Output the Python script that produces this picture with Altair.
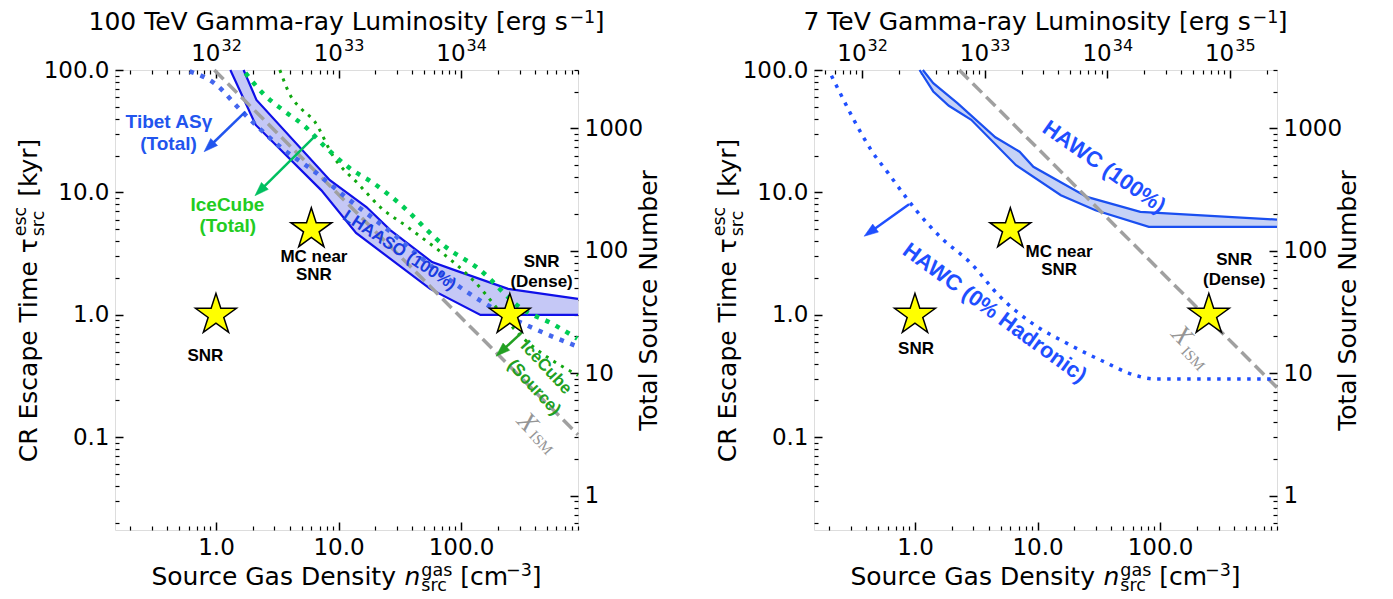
import math
import altair as alt
import pandas as pd

# ---------------- data: left panel (100 TeV) ----------------
lhaaso_up_n = [1.68, 2.14, 8.5, 16.9, 26.6, 58, 91, 242, 900]
lhaaso_up_tau = [100, 57, 12.6, 7.6, 4.9, 2.7, 2.3, 1.63, 1.35]
lhaaso_lo_n = [1.31, 2.11, 7.25, 13.9, 56, 144, 900]
lhaaso_lo_tau = [100, 35.6, 10.4, 4.67, 1.63, 1.0, 1.0]

tibet_n = [0.61, 0.97, 1.63, 3.32, 6.37, 11.4, 26.6, 66, 175, 463, 900]
tibet_tau = [97.5, 78, 45.8, 23.7, 14.8, 9.2, 4.76, 2.24, 1.16, 0.72, 0.55]

icecube_a_n = [1.74, 2.48, 3.59, 5.41, 7.74, 13, 18.6, 30.3, 75, 139, 314, 562, 887]
icecube_a_tau = [94.5, 62.8, 46.4, 34.1, 23.7, 15.2, 12.2, 8.38, 3.59, 2.38, 1.12, 0.84, 0.64]
icecube_b_n = [3.32, 4.09, 4.91, 6.37, 9.1, 14.8, 21.9, 36.8, 126, 314, 900]
icecube_b_tau = [100, 60.8, 48.8, 38, 19.6, 11.5, 7.6, 5.2, 1.91, 0.66, 0.32]

xism_left_n = [0.97, 900]
xism_left_tau = [100, 0.105]

# ---------------- data: right panel (7 TeV) ----------------
hawc_up_n = [1.16, 1.41, 2.22, 4.53, 7.14, 9.25, 25.3, 69, 900]
hawc_up_tau = [100, 78, 53.6, 28.2, 21.5, 16.2, 9.2, 6.95, 6.0]
hawc_lo_n = [1.09, 1.41, 1.89, 2.88, 6.68, 15.5, 29.7, 81, 900]
hawc_lo_tau = [100, 66.8, 51, 39.2, 16.7, 9.5, 7.16, 5.23, 5.23]
hawc0_n = [0.208, 0.245, 0.317, 0.439, 0.607, 0.84, 1.02, 1.61, 2.88, 4.84, 9.25, 17.7, 33.9, 64.8, 89.5, 900]
hawc0_tau = [89.9, 64.8, 39.2, 22.2, 14.3, 9.2, 7.16, 4.33, 2.62, 1.44, 0.84, 0.58, 0.42, 0.318, 0.30, 0.30]

xism_right_n = [2.3, 900]
xism_right_tau = [100, 0.255]

# sources (both panels)
star_n = [1.0, 6.0, 250.0]
star_tau = [1.0, 5.0, 1.0]

# annotations: text, n, tau, size, colour key, angle
left_texts = [
    ("Tibet ASγ", 0.413, 37.9, 19, "tibet", 0),
    ("(Total)", 0.41, 24.7, 19, "tibet", 0),
    ("IceCube", 1.24, 7.97, 19, "ictot", 0),
    ("(Total)", 1.25, 5.33, 19, "ictot", 0),
    ("LHAASO (100%)", 31.3, 3.37, 17, "lhaaso", 33),
    ("IceCube", 494, 0.372, 17, "icsrc", 47),
    ("(Source)", 394, 0.255, 17, "icsrc", 47),
    ("SNR", 0.82, 0.46, 17, "black", 0),
    ("MC near", 6.3, 2.97, 17, "black", 0),
    ("SNR", 6.3, 2.1, 17, "black", 0),
    ("SNR", 454, 2.7, 17, "black", 0),
    ("(Dense)", 454, 1.85, 17, "black", 0),
]
right_texts = [
    ("HAWC (100%)", 35, 16.2, 22, "hawc", 35),
    ("HAWC (0% Hadronic)", 4.48, 1.04, 22, "hawc", 36),
    ("SNR", 1.02, 0.53, 17, "black", 0),
    ("MC near", 15, 3.26, 17, "black", 0),
    ("SNR", 15, 2.31, 17, "black", 0),
    ("SNR", 403, 2.79, 17, "black", 0),
    ("(Dense)", 403, 1.91, 17, "black", 0),
]
# X_ISM label pieces: text, n, tau, size
left_xism = [("X", 346, 0.132, 27), ("ISM", 450, 0.0905, 15)]
right_xism = [("X", 150, 0.677, 27), ("ISM", 186, 0.44, 15)]

# arrows: n0, tau0, n1 (head), tau1, colour key
left_arrows = [
    (1.74, 45.8, 0.80, 21.5, "tibet"),
    (6.58, 29.5, 2.08, 9.4, "icarrow"),
    (314, 0.72, 193, 0.46, "icsrc"),
]
right_arrows = [(0.895, 8.0, 0.385, 4.39, "hawc")]

top_titles = [("100 TeV Gamma-ray Luminosity [erg s", "−1", "]"),
              ("7 TeV Gamma-ray Luminosity [erg s", "−1", "]")]
lum_per_density = [1e32, 2.7e32]
sources_per_kyr = 30.0

# ---------------- style ----------------
COL = {
    "tibet": "#2255ee", "ictot": "#22cc22", "icarrow": "#00c060", "lhaaso": "#1a3ce0",
    "icsrc": "#22a022", "hawc": "#1f4fff", "black": "black",
}
W, H = 463, 460
XDOM = [0.15, 900.0]
YDOM = [0.0175, 100.0]
KX = W / math.log10(XDOM[1] / XDOM[0])
KY = H / math.log10(YDOM[1] / YDOM[0])
TICK_FONT = "DejaVu Sans"
ANN_FONT = "Liberation Sans"
LABEL_SIZE = 23
TITLE_SIZE = 25


def XS():
    return alt.Scale(type="log", domain=XDOM, nice=False)


def YS():
    return alt.Scale(type="log", domain=YDOM, nice=False)


ADV = {' ': 651, '(': 799, ')': 799, '-': 739, '−': 1716, '.': 651, '[': 799, ']': 799, '%': 1946,
       'A': 1401, 'C': 1430, 'D': 1577, 'E': 1294, 'G': 1589, 'L': 1141, 'M': 1767, 'N': 1532,
       'R': 1423, 'S': 1300, 'T': 1251, 'V': 1401, 'a': 1255, 'b': 1300, 'c': 1126, 'd': 1300,
       'e': 1260, 'g': 1300, 'i': 569, 'k': 1186, 'l': 569, 'm': 1995, 'n': 1298, 'o': 1253,
       'p': 1300, 'r': 842, 's': 1067, 't': 803, 'u': 1298, 'y': 1212, 'τ': 1165}


def tw(s, size):
    return sum(ADV.get(c, 1303) for c in s) / 2048.0 * size


def decade_values(lo, hi):
    major, minor = [], []
    e = math.floor(math.log10(lo)) - 1
    while float(f"1e{e}") <= hi * 1.0001:
        for m in range(1, 10):
            v = float(f"{m}e{e}")
            if lo * 0.9999 <= v <= hi * 1.0001:
                (major if m == 1 else minor).append(v)
        e += 1
    return major, minor


def axis_set(channel, major, minor, orient, label_kw=None, title_kw=None):
    df = pd.DataFrame({"n": XDOM, "tau": YDOM})

    def lay(axis):
        if channel == "x":
            enc = dict(x=alt.X("n:Q", scale=XS(), axis=axis), y=alt.Y("tau:Q", scale=YS(), axis=None))
        else:
            enc = dict(x=alt.X("n:Q", scale=XS(), axis=None), y=alt.Y("tau:Q", scale=YS(), axis=axis))
        return alt.Chart(df).mark_point(opacity=0).encode(**enc)

    out = [
        lay(alt.Axis(orient=orient, values=major, labels=False, ticks=True, tickSize=8,
                     tickWidth=1.5, tickColor="black", offset=-8, grid=False, domain=False, title=None)),
        lay(alt.Axis(orient=orient, values=minor, labels=False, ticks=True, tickSize=4,
                     tickWidth=1.2, tickColor="black", offset=-4, grid=False, domain=False, title=None)),
    ]
    if label_kw is not None:
        lab = dict(grid=False, domain=False, ticks=False, tickSize=0, values=major, labels=True,
                   labelFont=TICK_FONT, labelFontSize=LABEL_SIZE, labelColor="black",
                   labelFlush=False, labelOverlap=False)
        lab.update(label_kw)
        if title_kw:
            lab.update(title_kw)
        else:
            lab["title"] = None
        out.append(lay(alt.Axis(orient=orient, **lab)))
    return out


def piece(text, px, py, size, angle=0, style="normal", align="left"):
    return alt.Chart(pd.DataFrame({"t": [text]})).mark_text(
        font=TICK_FONT, fontSize=size, fontStyle=style, color="black",
        align=align, baseline="alphabetic", angle=angle).encode(
        text="t:N", x=alt.value(px), y=alt.value(py))


def x_title():
    fs = TITLE_SIZE
    ss = fs * 0.7
    a = "Source Gas Density"
    w_a = tw(a + " ", fs)
    w_n = tw("n", fs) + 1
    w_s = max(tw("gas", ss), tw("src", ss))
    w_sp = tw(" ", fs)
    w_b = tw("[cm", fs)
    w_e = tw("−3", ss) - 2
    total = w_a + w_n + w_s + w_sp + w_b + w_e + tw("]", fs)
    x = W / 2 - total / 2
    yb = H + 55
    out = [piece(a, x, yb, fs)]
    x += w_a
    out.append(piece("n", x, yb, fs, style="italic"))
    x += w_n
    out += [piece("gas", x, yb - 0.37 * fs, ss), piece("src", x, yb + 0.23 * fs, ss)]
    x += w_s + w_sp
    out.append(piece("[cm", x, yb, fs))
    x += w_b
    out.append(piece("−3", x - 2, yb - 0.38 * fs, ss))
    x += w_e
    out.append(piece("]", x, yb, fs))
    return out


def y_title():
    fs = TITLE_SIZE
    ss = fs * 0.7
    a, b = "CR Escape Time τ", "[kyr]"
    w1 = tw(a, fs) + 2
    w3 = max(tw("esc", ss), tw("src", ss)) + 2
    w4 = tw(" " + b, fs)
    y0 = H / 2 + (w1 + w3 + w4) / 2
    x0 = -78
    return [piece(a, x0, y0, fs, angle=270),
            piece("esc", x0 - 0.45 * fs, y0 - w1, ss, angle=270),
            piece("src", x0 + 0.27 * fs, y0 - w1, ss, angle=270),
            piece(b, x0, y0 - w1 - w3 - tw(" ", fs), fs, angle=270)]


def top_title(parts):
    fs = TITLE_SIZE
    ss = fs * 0.7
    a, e, b = parts
    wa, we, wb = tw(a, fs), tw(e, ss) - 4, tw(b, fs)
    x = W / 2 - (wa + we + wb) / 2
    yb = -40
    return [piece(a, x, yb, fs), piece(e, x + wa - 3.5, yb - 0.30 * fs, ss),
            piece(b, x + wa + we, yb, fs)]


def top_labels(lum_fac):
    lmaj, _ = decade_values(XDOM[0] * lum_fac, XDOM[1] * lum_fac)
    df = pd.DataFrame({"n": [v / lum_fac for v in lmaj], "base": ["10"] * len(lmaj),
                       "exp": [str(round(math.log10(v))) for v in lmaj]})
    xenc = alt.X("n:Q", scale=XS(), axis=None)
    base = alt.Chart(df).mark_text(font=TICK_FONT, fontSize=LABEL_SIZE, color="black", align="right",
                                   baseline="alphabetic", dx=4.5).encode(x=xenc, y=alt.value(-9), text="base:N")
    expo = alt.Chart(df).mark_text(font=TICK_FONT, fontSize=16, color="black", align="left",
                                   baseline="alphabetic", dx=5.5).encode(x=xenc, y=alt.value(-19), text="exp:N")
    return [base, expo]


def enc_xy():
    return dict(x=alt.X("n:Q", scale=XS(), axis=None), y=alt.Y("tau:Q", scale=YS(), axis=None))


def line(ns, ts, color, width, dash=None, interp="linear"):
    df = pd.DataFrame({"n": ns, "tau": ts, "i": range(len(ns))})
    kw = dict(color=color, strokeWidth=width, interpolate=interp)
    if dash:
        kw["strokeDash"] = dash
        kw["strokeCap"] = "butt"
    return alt.Chart(df).mark_line(**kw).encode(order="i:Q", **enc_xy())


def band(up_n, up_t, lo_n, lo_t, fill):
    ns = list(up_n) + list(lo_n)[::-1]
    ts = list(up_t) + list(lo_t)[::-1]
    df = pd.DataFrame({"n": ns, "tau": ts, "i": range(len(ns))})
    return alt.Chart(df).mark_line(fill=fill, stroke=fill, strokeWidth=0.5, fillOpacity=1).encode(
        order="i:Q", **enc_xy())


STAR = "M" + " L".join(
    f"{(1.0 if k % 2 == 0 else 0.382) * math.cos(math.radians(-90 + 36 * k)):.4f},"
    f"{(1.0 if k % 2 == 0 else 0.382) * math.sin(math.radians(-90 + 36 * k)):.4f}"
    for k in range(10)) + " Z"
HEAD = "M0,0 L0.7,2 L-0.7,2 Z"


def stars():
    df = pd.DataFrame({"n": star_n, "tau": star_tau})
    return alt.Chart(df).mark_point(shape=STAR, size=1850, filled=True, fill="#ffff00",
                                    stroke="black", strokeWidth=1.5, opacity=1).encode(**enc_xy())


def texts(items):
    out = []
    for t, n, tau, size, ck, ang in items:
        df = pd.DataFrame({"n": [n], "tau": [tau], "t": [t]})
        out.append(alt.Chart(df).mark_text(font=ANN_FONT, fontWeight="bold", fontSize=size,
                                           color=COL[ck], angle=ang, align="center",
                                           baseline="middle").encode(text="t:N", **enc_xy()))
    return out


def xism_label(items):
    out = []
    for t, n, tau, size in items:
        df = pd.DataFrame({"n": [n], "tau": [tau], "t": [t]})
        out.append(alt.Chart(df).mark_text(font="Liberation Serif",
                                           fontStyle="italic" if t == "X" else "normal",
                                           fontSize=size, color="#959595", angle=47, align="center",
                                           baseline="middle").encode(text="t:N", **enc_xy()))
    return out


def arrows(items):
    out = []
    for n0, t0, n1, t1, ck in items:
        dx = (math.log10(n1) - math.log10(n0)) * KX
        dy = -(math.log10(t1) - math.log10(t0)) * KY
        L = math.hypot(dx, dy)
        ux, uy = dx / L, dy / L
        ang = math.degrees(math.atan2(dx, -dy)) % 360
        back = 10.0
        ne = 10 ** (math.log10(n1) - ux * back / KX)
        te = 10 ** (math.log10(t1) + uy * back / KY)
        out.append(line([n0, ne], [t0, te], COL[ck], 2.5))
        hd = pd.DataFrame({"n": [n1], "tau": [t1]})
        out.append(alt.Chart(hd).mark_point(shape=HEAD, size=196, filled=True, fill=COL[ck],
                                            stroke=COL[ck], strokeWidth=0.5, opacity=1,
                                            angle=ang).encode(**enc_xy()))
    return out


def panel(data_layers, title_parts, lum_fac):
    xmaj, xmin = decade_values(*XDOM)
    ymaj, ymin = decade_values(*YDOM)
    bottom = axis_set("x", xmaj, xmin, "bottom", dict(format=".1f", labelPadding=6))
    left = axis_set("y", ymaj, ymin, "left", dict(format=".1f", labelPadding=6))
    # top axis: luminosity = lum_fac * density, ticks expressed in density units
    lmaj, lmin = decade_values(XDOM[0] * lum_fac, XDOM[1] * lum_fac)
    top = axis_set("x", [v / lum_fac for v in lmaj], [v / lum_fac for v in lmin], "top")
    # right axis: total source number = sources_per_kyr * tau
    nmaj, nmin = decade_values(YDOM[0] * sources_per_kyr, YDOM[1] * sources_per_kyr)
    right = axis_set("y", [v / sources_per_kyr for v in nmaj], [v / sources_per_kyr for v in nmin], "right",
                     dict(labelExpr=f"format(round(datum.value*{sources_per_kyr}), 'd')", labelPadding=6),
                     dict(title="Total Source Number", titleFont=TICK_FONT,
                          titleFontSize=TITLE_SIZE, titleFontWeight="normal",
                          titleColor="black", titleAngle=270, titlePadding=19))
    return alt.layer(*data_layers, *bottom, *left, *top, *right, *top_labels(lum_fac),
                     *top_title(title_parts), *x_title(), *y_title()).resolve_axis(
        x="independent", y="independent").properties(width=W, height=H)


left_layers = [
    band(lhaaso_up_n, lhaaso_up_tau, lhaaso_lo_n, lhaaso_lo_tau, "#c5c8f6"),
    line(lhaaso_up_n, lhaaso_up_tau, "#1010e8", 2.2),
    line(lhaaso_lo_n, lhaaso_lo_tau, "#1010e8", 2.2),
    line(xism_left_n, xism_left_tau, "#a0a0a0", 3.5, dash=[13, 6]),
    line(icecube_b_n, icecube_b_tau, "#11a811", 3.0, dash=[3, 6], interp="monotone"),
    line(icecube_a_n, icecube_a_tau, "#00cc55", 4.5, dash=[4.5, 7], interp="monotone"),
    line(tibet_n, tibet_tau, "#4466ee", 4.5, dash=[4.5, 7], interp="monotone"),
    *arrows(left_arrows),
    stars(),
    *texts(left_texts),
    *xism_label(left_xism),
]
right_layers = [
    band(hawc_up_n, hawc_up_tau, hawc_lo_n, hawc_lo_tau, "#c6d2f6"),
    line(hawc_up_n, hawc_up_tau, "#1a4ff0", 2.2),
    line(hawc_lo_n, hawc_lo_tau, "#1a4ff0", 2.2),
    line(xism_right_n, xism_right_tau, "#a0a0a0", 3.5, dash=[13, 6]),
    line(hawc0_n, hawc0_tau, "#1f4fff", 3.5, dash=[3.5, 6.5], interp="monotone"),
    *arrows(right_arrows),
    stars(),
    *texts(right_texts),
    *xism_label(right_xism),
]

chart = alt.hconcat(
    panel(left_layers, top_titles[0], lum_per_density[0]),
    panel(right_layers, top_titles[1], lum_per_density[1]),
    spacing=47,
).properties(padding={"left": 3, "top": 0, "right": 0, "bottom": 0}).configure_view(
    stroke="black", strokeWidth=1.6).configure(background="white")

chart.save("out.html", embed_options={"renderer": "svg", "actions": False})
